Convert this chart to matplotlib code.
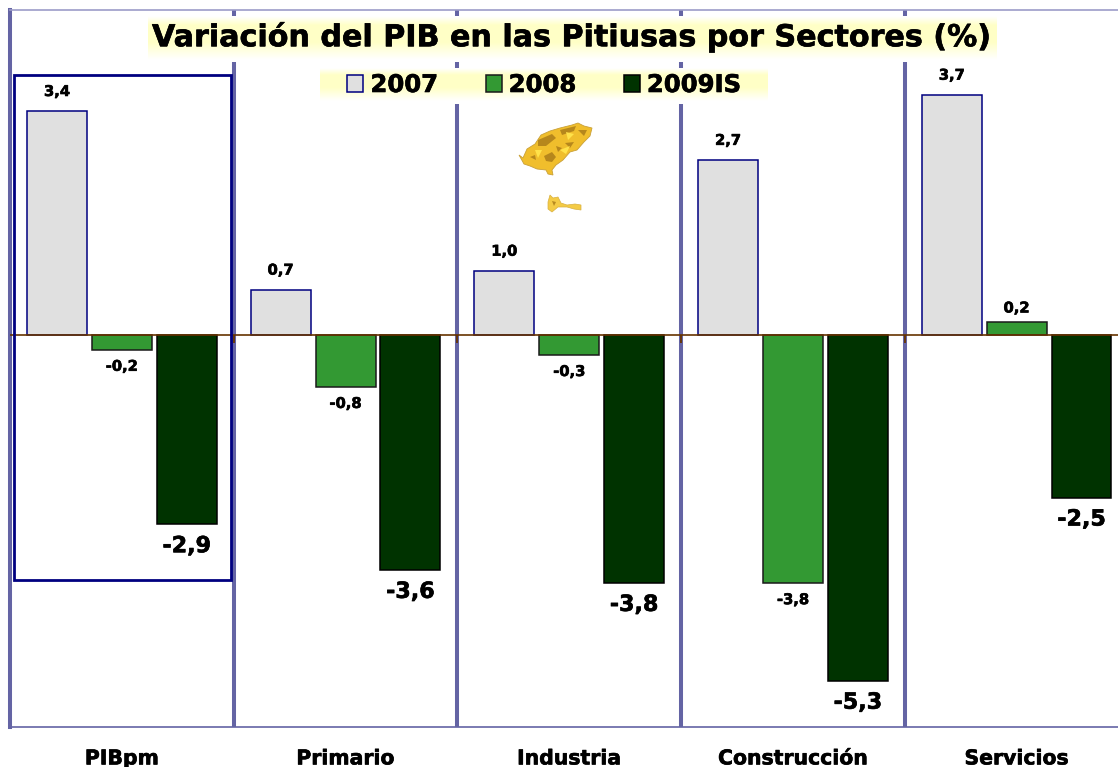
import numpy as np
import matplotlib
matplotlib.use("Agg")
import matplotlib.pyplot as plt
import matplotlib.patheffects as pe
from matplotlib.colors import LinearSegmentedColormap
from matplotlib.patches import Polygon, Rectangle

categories = ["PIBpm", "Primario", "Industria", "Construcción", "Servicios"]
series_names = ["2007", "2008", "2009IS"]
values_2007 = [3.44, 0.70, 0.99, 2.69, 3.69]
values_2008 = [-0.22, -0.79, -0.30, -3.80, 0.21]
values_2009 = [-2.90, -3.60, -3.80, -5.30, -2.49]
labels_2007 = ["3,4", "0,7", "1,0", "2,7", "3,7"]
labels_2008 = ["-0,2", "-0,8", "-0,3", "-3,8", "0,2"]
labels_2009 = ["-2,9", "-3,6", "-3,8", "-5,3", "-2,5"]

W, H = 1118, 767
FRAME = "#6464A4"
NAVY = "#000080"
BROWN = "#663300"
PALE = (1.0, 1.0, 0.78)
HEAVY = [pe.withStroke(linewidth=0.45, foreground="black")]

plt.rcParams["font.family"] = "DejaVu Sans"
plt.rcParams["font.weight"] = "bold"

fig = plt.figure(figsize=(W / 100, H / 100), dpi=100, facecolor="white")
ax = fig.add_axes([10 / W, 1 - 726.5 / H, (W - 10) / W, 717 / H], zorder=1)
ax.set_xlim(-0.5, (W - 10) / 223.7 - 0.5)
ax.set_ylim(-6, 5)

x = np.arange(len(categories))
step, width = 0.29, 0.268
all_series = [values_2007, values_2008, values_2009]
all_labels = [labels_2007, labels_2008, labels_2009]
colors = ["#E0E0E0", "#339933", "#003300"]
edges = [NAVY, "#1A1A1A", "#000000"]
offsets_up = [8.8, 4.5, 8.3]
offsets_down = [8.8, 6.5, 8.5]

bars = []
for i, (vals, c, e) in enumerate(zip(all_series, colors, edges)):
    bars.append(ax.bar(x + (i - 1) * step, vals, width, color=c, edgecolor=e,
                       linewidth=1.1, label=series_names[i], zorder=3))

# bar labels, the 2009 series is the big one
for i, (b, labs) in enumerate(zip(bars, all_labels)):
    for r, lab in zip(b, labs):
        v = r.get_height()
        ax.annotate(lab, (r.get_x() + r.get_width() / 2, v),
                    xytext=(0, offsets_up[i] if v > 0 else -offsets_down[i]),
                    textcoords="offset points", ha="center",
                    va="bottom" if v > 0 else "top",
                    fontsize=16 if i == 2 else 10.6, fontweight="bold", zorder=5,
                    path_effects=HEAVY)

ax.axhline(0, color=BROWN, lw=1.2, zorder=4)
ax.vlines(x[:-1] + 0.5, -6, 5, color=FRAME, lw=2.9, zorder=1)
ax.vlines(x[:-1] + 0.5, -0.12, 0, color=BROWN, lw=1.3, zorder=2)
for side in ["top", "right"]:
    ax.spines[side].set_visible(False)
ax.spines["left"].set_color(FRAME)
ax.spines["left"].set_linewidth(2.9)
ax.spines["bottom"].set_color(FRAME)
ax.spines["bottom"].set_linewidth(1.2)
ax.set_yticks([])
ax.set_xticks(x, categories, fontsize=14.7, fontweight="bold", path_effects=HEAVY)
ax.tick_params(axis="x", length=0, pad=16.5)

# overlay in pixel coordinates for the title bands, the box and the map
ov = fig.add_axes([0, 0, 1, 1], zorder=2)
ov.set_xlim(0, W)
ov.set_ylim(H, 0)
ov.axis("off")
ov.patch.set_alpha(0)
ov.plot([10, W], [10, 10], color="#9C9CC8", lw=1.2, zorder=1)


def band(x0, x1, y0, y1, white_bottom):
    ov.add_patch(Rectangle((x0, y0), x1 - x0, white_bottom - y0, color="white", lw=0, zorder=1.5))
    cmap = LinearSegmentedColormap.from_list(
        "band", [(0, "white"), (0.2, PALE), (0.6, PALE), (1, "white")])
    ov.imshow(np.linspace(0, 1, 64)[:, None], cmap=cmap, aspect="auto",
              extent=[x0, x1, y1, y0], zorder=2)


band(148, 997, 16, 60, 62)
band(320, 768, 68, 101, 104)
ov.set_xlim(0, W)
ov.set_ylim(H, 0)

ov.text(571, 37, "Variación del PIB en las Pitiusas por Sectores (%)", ha="center",
        va="center", fontsize=21.7, fontweight="bold", zorder=3, path_effects=HEAVY)

ov.add_patch(Rectangle((14, 75), 217, 505, fill=False, ec=NAVY, lw=2.0, zorder=6))

# legend
leg = ov.legend(handles=[b[0] for b in bars], labels=series_names, ncol=3, loc="center",
                bbox_to_anchor=(544 / W, 1 - 85 / H), bbox_transform=fig.transFigure,
                frameon=False, fontsize=17.5, handlelength=0.66, handleheight=0.66,
                handletextpad=0.29, columnspacing=1.97)
leg.set_zorder(4)
for t in leg.get_texts():
    t.set_path_effects(HEAVY)

# Ibiza and Formentera, hand traced
ibiza = [(519, 155), (523, 158), (527, 149), (535, 144), (541, 135), (550, 131), (560, 128),
         (572, 125), (578, 123), (584, 126), (592, 128), (590, 136), (584, 142), (577, 150),
         (570, 152), (563, 160), (556, 165), (552, 170), (553, 175), (548, 174), (546, 170),
         (537, 169), (530, 166), (524, 164)]
formentera = [(550, 195), (553, 198), (558, 197), (561, 203), (567, 205), (575, 204), (581, 205),
              (581, 210), (574, 209), (567, 207), (558, 207), (552, 212), (548, 209), (548, 202)]
ov.add_patch(Polygon(ibiza, fc="#F0BE2C", ec="#C9A038", lw=0.6, zorder=3))
ov.add_patch(Polygon(formentera, fc="#F4CB45", ec="#D8B040", lw=0.5, zorder=3))
specks = [[(538, 140), (552, 134), (556, 138), (546, 146), (538, 146)],
          [(560, 130), (576, 126), (574, 131), (562, 135)],
          [(544, 156), (552, 152), (556, 157), (552, 162), (546, 161)],
          [(565, 143), (574, 142), (570, 148)],
          [(530, 157), (535, 155), (536, 160)],
          [(578, 130), (587, 130), (584, 136)],
          [(556, 146), (562, 148), (558, 152)],
          [(552, 201), (556, 202), (554, 206)]]
for s in specks:
    ov.add_patch(Polygon(s, fc="#A87A18", lw=0, alpha=0.8, zorder=3.1))
glints = [[(560, 150), (570, 146), (566, 154)],
          [(535, 150), (542, 150), (538, 158)],
          [(566, 132), (574, 134), (568, 140)]]
for s in glints:
    ov.add_patch(Polygon(s, fc="#FFE24A", lw=0, zorder=3.2))

fig.savefig("out.png", dpi=100)
